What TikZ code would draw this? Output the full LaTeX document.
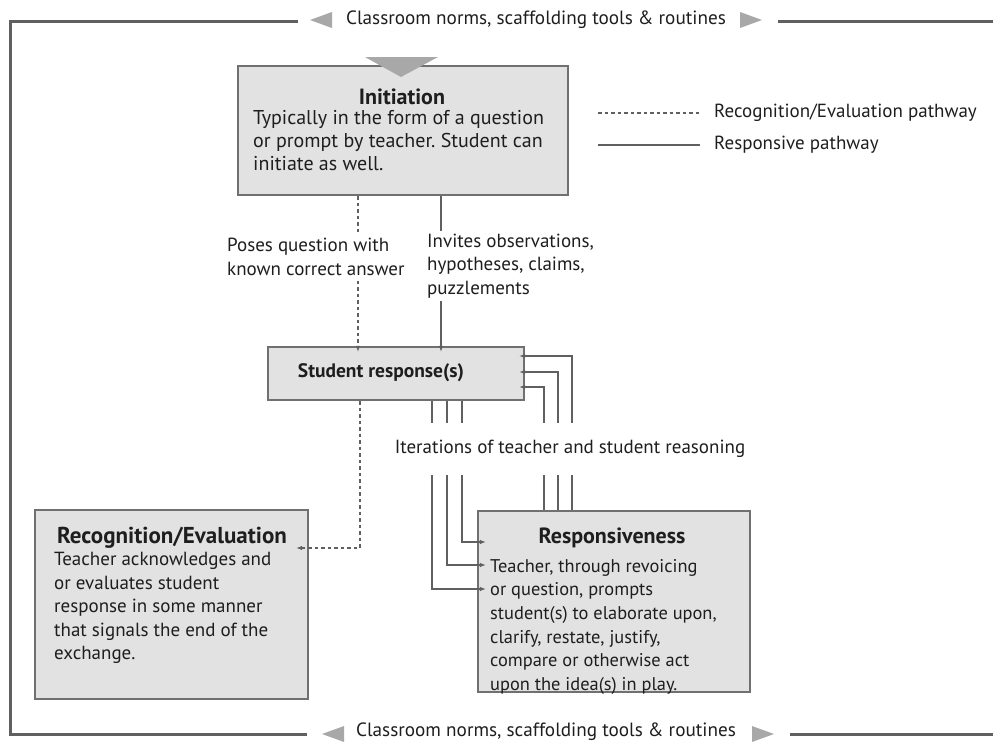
\documentclass[tikz,border=0pt]{standalone}
\usepackage{fontspec}
\setmainfont{PT Sans}
\usetikzlibrary{arrows.meta}
\definecolor{boxfill}{HTML}{E2E2E2}
\definecolor{boxdraw}{HTML}{707070}
\definecolor{linec}{HTML}{606060}
\definecolor{tric}{HTML}{A8A8A8}
\definecolor{txt}{HTML}{1E1E1E}
\tikzset{
  box/.style={draw=boxdraw, fill=boxfill, line width=2.2pt, inner sep=0pt},
  ttl/.style={font=\fontsize{22}{24}\selectfont\bfseries, text=txt, inner sep=0pt},
  body/.style={font=\fontsize{19}{23.5}\selectfont, text=txt, align=left, inner sep=0pt},
  lbl/.style={font=\fontsize{19}{23.5}\selectfont, text=txt, align=left, fill=white, inner xsep=2pt},
  conn/.style={draw=linec, line width=1.3pt},
  recogline/.style={conn, dash pattern=on 3.5pt off 3pt},
  arr/.style={-{Latex[length=6pt,width=4.5pt]}},
  frame/.style={draw=linec, line width=3pt},
  tri/.style={fill=tric, draw=none},
}
\begin{document}
\frenchspacing
\begin{tikzpicture}[x=1pt,y=-1pt]
\useasboundingbox (0,0) rectangle (993,742);
% frame
\draw[frame] (298,21) -- (10,21) -- (10,734) -- (307,734);
\draw[frame] (778,21) -- (993,21);
\draw[frame] (790,734) -- (993,734);
\fill[tri] (310,20) -- (332,12) -- (332,28) -- cycle;
\fill[tri] (762,20) -- (740,12) -- (740,28) -- cycle;
\fill[tri] (322,734) -- (344,726) -- (344,742) -- cycle;
\fill[tri] (774,734) -- (752,726) -- (752,742) -- cycle;
\node[font=\fontsize{19.2}{22}\selectfont, text=txt] (toplab) at (536,20) {Classroom norms, scaffolding tools \& routines};
\node[font=\fontsize{19.2}{22}\selectfont, text=txt] (botlab) at (546,732) {Classroom norms, scaffolding tools \& routines};

% boxes
\node[box, minimum width=330pt, minimum height=129pt] (init) at (403,130.5) {};
\node[box, minimum width=256pt, minimum height=53pt] (sresp) at (396,373.5) {};
\node[box, minimum width=273pt, minimum height=189pt] (recog) at (171.5,604.5) {};
\node[box, minimum width=272pt, minimum height=181pt] (resp) at (614,601.5) {};

\fill[tri] (365,57) -- (438,57) -- (401,77) -- cycle;

% box texts
\node[ttl] (initT) at (402,97) {Initiation};
\node[body, font=\fontsize{20}{23}\selectfont, anchor=north west] (initB) at (253,110.5) {Typically in the form of a question\\or prompt by teacher. Student can\\initiate as well.};
\node[ttl, font=\fontsize{19.5}{22}\selectfont\bfseries] (srespT) at (381,373) {Student response(s)};
\node[ttl, font=\fontsize{23}{24}\selectfont\bfseries] (recogT) at (172,538) {Recognition/Evaluation};
\node[body, anchor=north west] (recogB) at (54,552) {Teacher acknowledges and\\or evaluates student\\response in some manner\\that signals the end of the\\exchange.};
\node[ttl] (respT) at (612,538) {Responsiveness};
\node[body, font=\fontsize{18.4}{23.6}\selectfont, anchor=north west] (respB) at (490,559) {Teacher, through revoicing\\or question, prompts\\student(s) to elaborate upon,\\clarify, restate, justify,\\compare or otherwise act\\upon the idea(s) in play.};

% legend
\coordinate (l1a) at (598,113); \coordinate (l1b) at (700,113);
\coordinate (l2a) at (598,145); \coordinate (l2b) at (700,145);
\draw[recogline] (l1a) -- (l1b);
\draw[conn] (l2a) -- (l2b);
\node[body, anchor=west] (leg1) at (714,113) {Recognition/Evaluation pathway};
\node[body, anchor=west] (leg2) at (714,145) {Responsive pathway};

% connectors
\draw[recogline, arr, shorten >=-6pt] (init.south -| 358,0) -- (sresp.north -| 358,0);
\draw[conn, arr, shorten >=-6pt] (init.south -| 441,0) -- (sresp.north -| 441,0);
\node[lbl, anchor=west] (lab1) at (225,257) {Poses question with\\known correct answer};
\node[lbl, anchor=west] (lab2) at (425,266) {Invites observations,\\hypotheses, claims,\\puzzlements};

\draw[recogline, arr, shorten >=-13pt] (sresp.south -| 360,0) |- (recog.east |- 0,548);

\draw[conn, arr, shorten >=-6pt] (resp.north -| 544,0) |- (sresp.east |- 0,387);
\draw[conn, arr, shorten >=-6pt] (resp.north -| 558,0) |- (sresp.east |- 0,372);
\draw[conn, arr, shorten >=-6pt] (resp.north -| 572,0) |- (sresp.east |- 0,356);
\draw[conn, arr, shorten >=-9pt] (sresp.south -| 462,0) |- (resp.west |- 0,542);
\draw[conn, arr, shorten >=-9pt] (sresp.south -| 447,0) |- (resp.west |- 0,565);
\draw[conn, arr, shorten >=-9pt] (sresp.south -| 432,0) |- (resp.west |- 0,589);
\node[lbl, inner ysep=17pt] (iter) at (570,449) {Iterations of teacher and student reasoning};
\end{tikzpicture}
\end{document}
